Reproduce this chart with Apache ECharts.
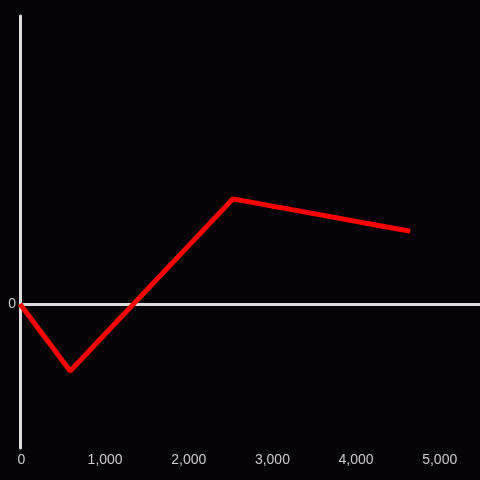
<!DOCTYPE html>
<html>
<head>
<meta charset="utf-8">
<script src="https://cdn.jsdelivr.net/npm/echarts@6/dist/echarts.min.js"></script>
<style>
  html, body { margin: 0; padding: 0; background: #050307; }
  #chart { width: 480px; height: 480px; }
</style>
</head>
<body>
<div id="chart"></div>
<script>
  const xValues = [0, 600, 2545, 4665];
  const yValues = [0, -0.465, 0.73, 0.505];
  const xTicks = [0, 1000, 2000, 3000, 4000, 5000];

  const myChart = echarts.init(document.getElementById("chart"));
  const axisColor = "#dedede";
  const labelColor = "#cccccc";

  const option = {
    backgroundColor: "#050307",
    animation: false,
    grid: { left: 20, right: 0, top: 16, bottom: 32 },
    xAxis: {
      type: "value",
      min: 0,
      max: 5500,
      interval: 1000,
      axisLine: { show: false },
      axisTick: { show: false },
      splitLine: { show: false },
      axisLabel: {
        color: labelColor,
        fontSize: 14,
        fontFamily: "Liberation Sans, Arial, sans-serif",
        margin: 5,
        padding: [0, 0, 0, 3],
        showMaxLabel: false,
        formatter: (v) => (xTicks.includes(v) ? v.toLocaleString("en-US") : ""),
      },
    },
    yAxis: {
      type: "value",
      min: -1,
      max: 2,
      interval: 1,
      axisLine: { show: true, onZero: false, lineStyle: { color: axisColor, width: 3 } },
      axisTick: { show: false },
      splitLine: { show: false },
      axisLabel: {
        color: labelColor,
        fontSize: 14,
        fontFamily: "Liberation Sans, Arial, sans-serif",
        margin: 4,
        formatter: (v) => (v === 0 ? "0" : ""),
      },
    },
    series: [
      {
        type: "line",
        data: xValues.map((x, i) => [x, yValues[i]]),
        symbol: "none",
        lineStyle: { color: "#ff0000", width: 5 },
        z: 3,
        markLine: {
          silent: true,
          symbol: "none",
          label: { show: false },
          lineStyle: { color: axisColor, width: 3, type: "solid" },
          data: [{ yAxis: 0 }],
          z: 1,
        },
      },
    ],
  };

  myChart.setOption(option);
</script>
</body>
</html>
